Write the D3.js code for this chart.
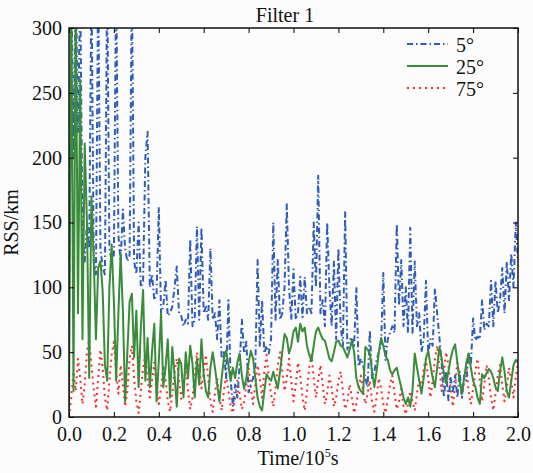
<!DOCTYPE html>
<html>
<head>
<meta charset="utf-8">
<script src="https://cdn.jsdelivr.net/npm/d3@7"></script>
<style>
  body { margin: 0; background: #fcfcfc; }
  svg { display: block; }
  svg text { font-family: "Liberation Serif", "Times New Roman", "DejaVu Serif", serif !important; fill: #111; }
</style>
</head>
<body>
<svg id="chart" width="533" height="473"></svg>
<script>
// samples every 0.01 x 10^5 s
const tStep = 0.01;
const xTicks = [0, 0.2, 0.4, 0.6, 0.8, 1.0, 1.2, 1.4, 1.6, 1.8, 2.0];
const yTicks = [0, 50, 100, 150, 200, 250, 300];
const labels = ['5°', '25°', '75°'];

const rss5 = [
  60, 340, 200, 340, 220, 330, 140, 120, 150, 130,
  340, 120, 110, 340, 130, 115, 110, 340, 130, 120,
  125, 340, 140, 120, 160, 130, 120, 125, 340, 120,
  110, 150, 100, 105, 200, 220, 100, 110, 90, 95,
  162, 80, 85, 106, 78, 80, 85, 100, 116, 80,
  78, 70, 75, 72, 137, 70, 75, 147, 75, 146,
  80, 85, 75, 130, 75, 80, 60, 90, 45, 50,
  30, 90, 29, 8, 25, 15, 40, 75, 49, 58,
  19, 25, 30, 40, 121, 54, 90, 49, 55, 49,
  60, 150, 75, 121, 75, 80, 100, 164, 100, 75,
  114, 75, 80, 108, 77, 108, 80, 85, 80, 150,
  100, 186, 80, 90, 70, 150, 100, 70, 120, 60,
  130, 70, 55, 158, 52, 60, 60, 55, 100, 39,
  45, 40, 30, 23, 67, 30, 35, 44, 50, 55,
  111, 44, 60, 65, 70, 65, 149, 86, 121, 70,
  100, 65, 146, 65, 120, 70, 80, 50, 60, 105,
  49, 60, 55, 99, 80, 61, 41, 15, 34, 13,
  30, 20, 32, 15, 35, 15, 32, 28, 50, 40,
  76, 59, 62, 60, 90, 67, 72, 70, 105, 70,
  105, 80, 90, 115, 80, 120, 90, 126, 100, 150,
  120
];

const rss25 = [
  5, 340, 20, 330, 80, 260, 60, 211, 150, 30,
  170, 123, 60, 115, 120, 97, 40, 28, 100, 133,
  89, 28, 80, 126, 82, 12, 50, 89, 95, 46,
  82, 23, 69, 98, 28, 61, 23, 51, 72, 12,
  43, 80, 23, 38, 60, 15, 54, 33, 8, 45,
  41, 15, 50, 30, 55, 41, 15, 45, 25, 60,
  33, 20, 15, 38, 50, 38, 25, 12, 30, 45,
  51, 40, 28, 38, 30, 42, 49, 32, 22, 30,
  42, 51, 45, 30, 15, 8, 5, 20, 33, 30,
  28, 35, 28, 22, 35, 50, 64, 61, 49, 55,
  66, 69, 58, 72, 66, 69, 55, 48, 43, 55,
  66, 69, 64, 60, 59, 52, 45, 43, 50, 58,
  59, 55, 54, 50, 46, 52, 59, 50, 30, 23,
  20, 18, 54, 52, 49, 35, 23, 35, 50, 61,
  55, 47, 44, 36, 33, 36, 38, 30, 23, 15,
  10, 15, 8, 20, 49, 38, 28, 18, 30, 45,
  51, 40, 30, 23, 38, 54, 45, 33, 26, 35,
  45, 52, 56, 42, 28, 18, 30, 42, 49, 38,
  28, 23, 15, 10, 33, 30, 34, 37, 35, 30,
  23, 20, 35, 46, 35, 20, 15, 28, 40, 44,
  42
];

const rss75 = [
  0, 15, 35, 20, 45, 30, 10, 25, 50, 60,
  40, 22, 8, 30, 52, 38, 15, 5, 28, 48,
  58, 35, 18, 40, 25, 8, 20, 45, 55, 30,
  12, 3, 20, 38, 48, 30, 15, 28, 42, 25,
  10, 22, 40, 30, 12, 4, 18, 35, 45, 28,
  14, 25, 38, 20, 6, 15, 32, 50, 40, 22,
  35, 48, 30, 12, 4, 18, 30, 15, 5, 20,
  32, 20, 8, 3, 15, 28, 18, 6, 12, 25,
  38, 22, 10, 25, 40, 30, 15, 35, 48, 30,
  18, 8, 22, 40, 50, 35, 20, 30, 45, 28,
  12, 25, 42, 32, 15, 5, 20, 38, 48, 30,
  15, 28, 40, 25, 10, 18, 32, 22, 8, 15,
  28, 35, 20, 6, 12, 25, 15, 3, 10, 22,
  32, 20, 10, 18, 28, 12, 4, 15, 30, 22,
  10, 3, 14, 25, 32, 18, 6, 12, 22, 8,
  2, 10, 20, 12, 5, 18, 30, 22, 38, 45,
  30, 15, 28, 45, 55, 38, 20, 35, 50, 40,
  22, 8, 25, 42, 30, 15, 28, 40, 20, 10,
  22, 35, 45, 28, 12, 25, 40, 30, 15, 5,
  18, 32, 40, 25, 12, 22, 38, 28, 15, 30,
  42
];

const series = [
  { label: labels[0], values: rss5, color: '#2f5cb8', width: 2, dash: '6,3,1.5,3' },
  { label: labels[1], values: rss25, color: '#3a8c3a', width: 2, dash: null },
  { label: labels[2], values: rss75, color: '#f03030', width: 2, dash: '2,4' },
];

const svg = d3.select('#chart');
const margin = { left: 69, right: 15, top: 28, bottom: 56 };
const W = 533, H = 473;
const iw = W - margin.left - margin.right;
const ih = H - margin.top - margin.bottom;

const x = d3.scaleLinear().domain([0, 2]).range([0, iw]);
const y = d3.scaleLinear().domain([0, 300]).range([ih, 0]);

const g = svg.append('g').attr('transform', `translate(${margin.left},${margin.top})`);

g.append('clipPath').attr('id', 'clip')
  .append('rect').attr('width', iw).attr('height', ih);

const line = d3.line()
  .x((d, i) => x(i * tStep))
  .y((d) => y(d));

const plot = g.append('g').attr('clip-path', 'url(#clip)');

// dotted first, then dash-dot, solid on top
[series[2], series[0], series[1]].forEach((s) => {
  plot.append('path')
    .attr('d', line(s.values))
    .attr('fill', 'none')
    .attr('stroke', s.color)
    .attr('stroke-width', s.width)
    .attr('stroke-dasharray', s.dash)
    .attr('stroke-linejoin', 'round');
});

const fontSize = 20;

const xAxis = g.append('g')
  .attr('transform', `translate(0,${ih})`)
  .call(d3.axisBottom(x).tickValues(xTicks).tickFormat(d3.format('.1f'))
    .tickSizeInner(-5).tickSizeOuter(0).tickPadding(8));
xAxis.selectAll('text').attr('dy', null).attr('y', 24);

const yAxis = g.append('g')
  .call(d3.axisLeft(y).tickValues(yTicks)
    .tickSizeInner(-5).tickSizeOuter(0).tickPadding(7));

g.append('g')
  .call(d3.axisTop(x).tickValues(xTicks).tickFormat('').tickSizeInner(-5).tickSizeOuter(0));
g.append('g')
  .attr('transform', `translate(${iw},0)`)
  .call(d3.axisRight(y).tickValues(yTicks).tickFormat('').tickSizeInner(-5).tickSizeOuter(0));

g.selectAll('.domain').remove();
g.selectAll('g').attr('font-family', null).attr('font-size', null);
g.selectAll('.tick line').attr('stroke', '#000').attr('stroke-width', 1);
g.selectAll('.tick text').style('font-size', fontSize + 'px');

g.append('rect')
  .attr('width', iw).attr('height', ih)
  .attr('fill', 'none').attr('stroke', '#111').attr('stroke-width', 1.5);

// title and axis labels
svg.append('text')
  .attr('x', 285).attr('y', 22)
  .attr('text-anchor', 'middle')
  .style('font-size', fontSize + 'px')
  .text('Filter 1');

const xl = svg.append('text')
  .attr('x', 298).attr('y', 465)
  .attr('text-anchor', 'middle')
  .style('font-size', fontSize + 'px');
xl.append('tspan').text('Time/10');
xl.append('tspan').attr('dy', -8).style('font-size', '12px').text('5');
xl.append('tspan').attr('dy', 8).text('s');

svg.append('text')
  .attr('transform', `translate(18,${margin.top + ih / 2}) rotate(-90)`)
  .attr('text-anchor', 'middle')
  .style('font-size', fontSize + 'px')
  .text('RSS/km');

// legend
const legend = svg.append('g').attr('transform', 'translate(407,44)');
series.forEach((s, i) => {
  const row = legend.append('g').attr('transform', `translate(0,${i * 22})`);
  row.append('line')
    .attr('x1', 0).attr('x2', 41)
    .attr('stroke', s.color)
    .attr('stroke-width', s.width)
    .attr('stroke-dasharray', s.dash);
  row.append('text')
    .attr('x', 49).attr('y', 8)
    .style('font-size', fontSize + 'px')
    .text(s.label);
});
</script>
</body>
</html>
